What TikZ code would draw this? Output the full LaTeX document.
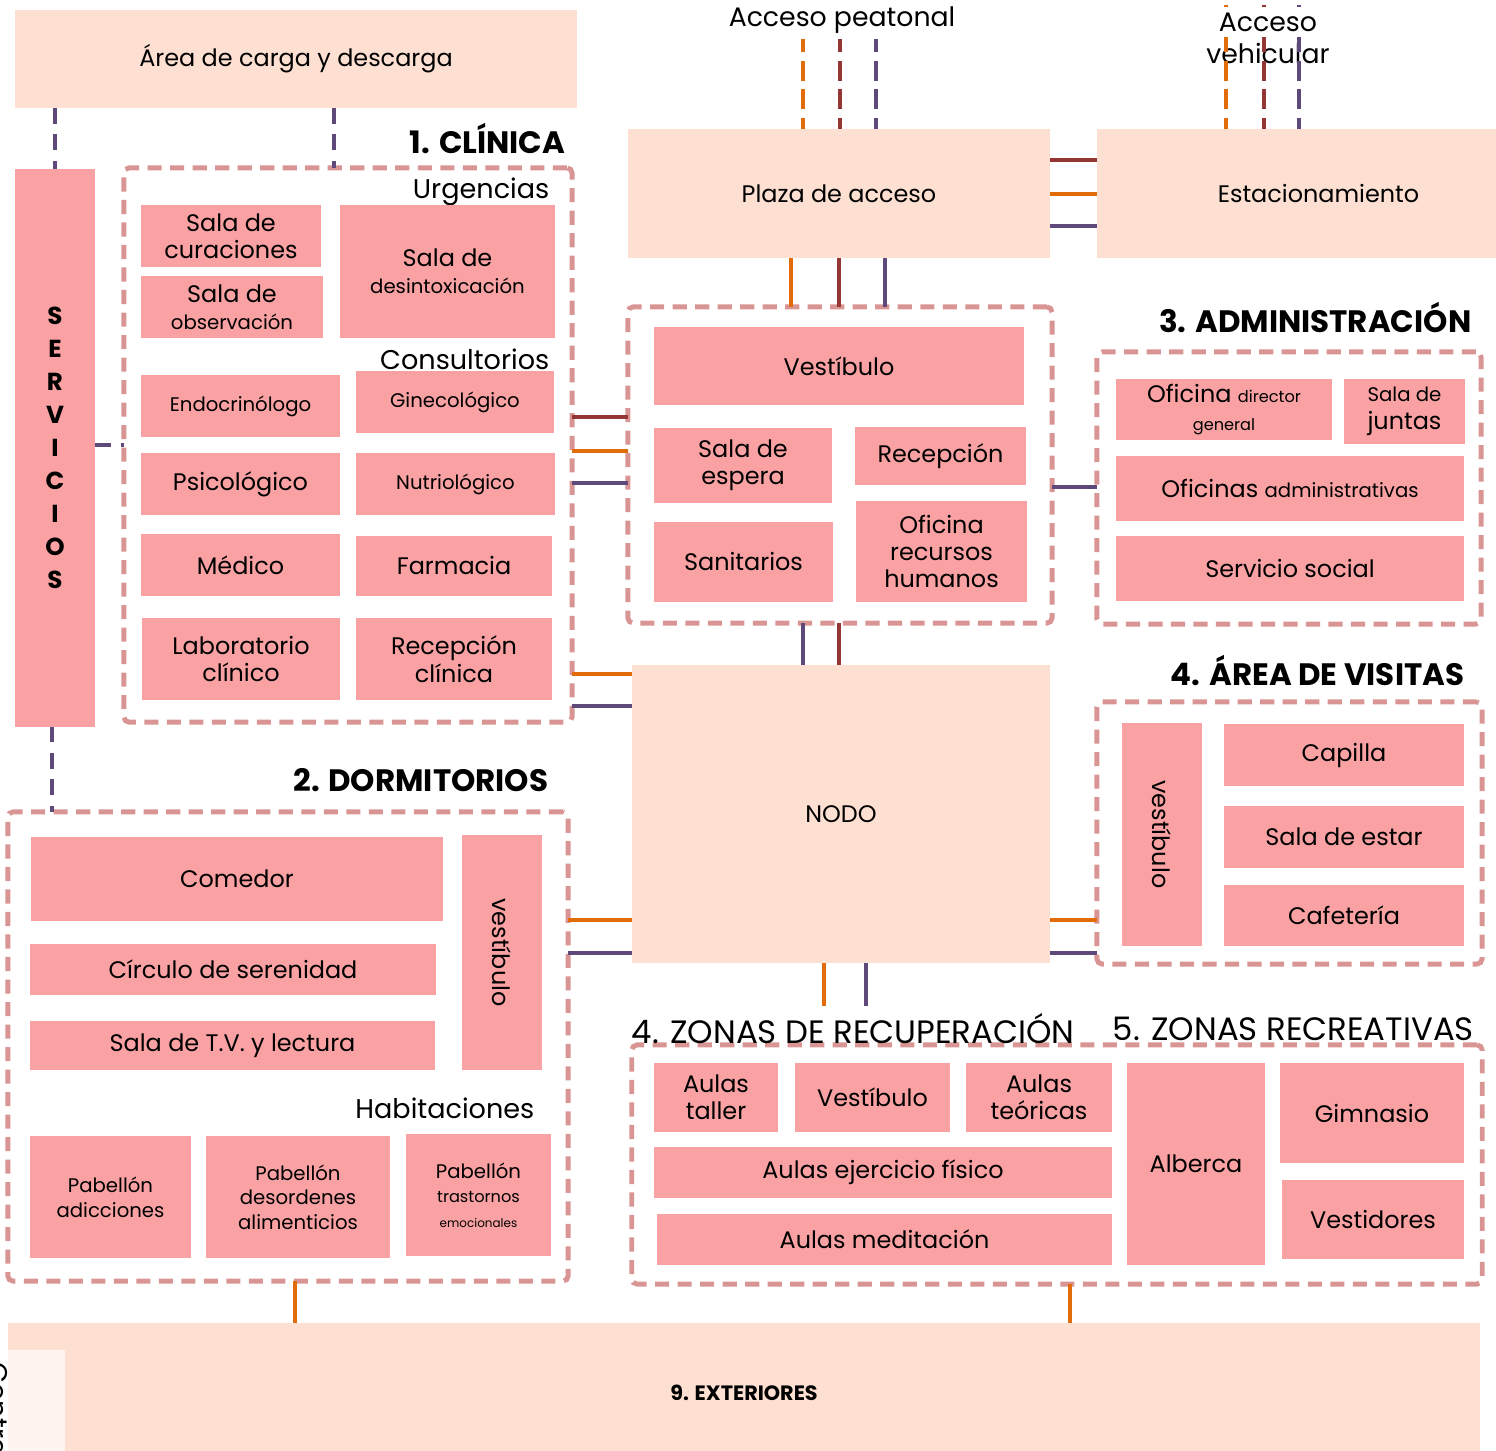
\documentclass[tikz,border=0pt]{standalone}
\usepackage{fontspec}
\setmainfont{Poppins}
\usepackage{xcolor}
\definecolor{plPeach}{HTML}{FDE0D2}
\definecolor{plRoom}{HTML}{FAA2A3}
\definecolor{plBorder}{HTML}{D99594}
\definecolor{plOrange}{HTML}{E36C0A}
\definecolor{plWine}{HTML}{943634}
\definecolor{plPurple}{HTML}{5F497A}
\definecolor{plPale}{HTML}{FFF4EE}
\usepackage{tikz}
\newcommand{\rmtxt}{\fontsize{6.8}{7.8}\selectfont}
\newcommand{\smtxt}{\fontsize{5.6}{7}\selectfont}
\newcommand{\xstxt}{\fontsize{4.6}{6}\selectfont}
\newcommand{\tntxt}{\fontsize{3.4}{4.6}\selectfont}
\newcommand{\subtxt}{\fontsize{7.7}{9}\selectfont}
\newcommand{\acctxt}{\fontsize{7.6}{8.8}\selectfont}
\newcommand{\ttltxt}{\fontsize{8.8}{10}\selectfont}
\newcommand{\zntxt}{\fontsize{9.2}{10}\selectfont}
\newcommand{\svctxt}{\fontsize{7}{9.4}\selectfont\bfseries}

\begin{document}
\begin{tikzpicture}[x=0.01cm, y=-0.01cm,
  hall/.style={fill=plPeach, inner sep=0pt, outer sep=0pt, align=center, font=\rmtxt},
  room/.style={fill=plRoom, inner sep=0pt, outer sep=0pt, align=center, font=\rmtxt},
  zone/.style={draw=plBorder, line width=1.4pt, dash pattern=on 4pt off 2.4pt,
    rounded corners=1.5pt, inner sep=0pt, outer sep=0pt},
  ttl/.style={font=\ttltxt\bfseries, inner sep=0pt},
  sub/.style={font=\subtxt, inner sep=0pt},
  ln/.style={line width=1.15pt},
  acc/.style={dash pattern=on 5.5pt off 2.5pt},
  svc/.style={draw=plPurple, line width=1.15pt, dash pattern=on 4.5pt off 3pt}]
  \useasboundingbox (0,0) rectangle (1496,1451);

  % ------- zones -------
  \node[zone, minimum width=4.48cm, minimum height=5.54cm] (clin) at (348,445) {};
  \node[zone, minimum width=4.24cm, minimum height=3.16cm] (lobby) at (840,465) {};
  \node[zone, minimum width=3.84cm, minimum height=2.72cm] (admin) at (1289,488) {};
  \node[zone, minimum width=3.85cm, minimum height=2.62cm] (visit) at (1289.5,833) {};
  \node[zone, minimum width=5.60cm, minimum height=4.69cm] (dorm) at (288,1046.5) {};
  \node[zone, minimum width=8.50cm, minimum height=2.39cm] (recup) at (1057,1164.5) {};

  \node[ttl, anchor=east] (tclin) at (566,139) {1. CLÍNICA};
  \node[ttl, anchor=east] (tadmin) at (1472,318) {3. ADMINISTRACIÓN};
  \node[ttl, anchor=east] (tvisit) at (1465,671) {4. ÁREA DE VISITAS};
  \node[ttl, anchor=east] (tdorm) at (549,780) {2. DORMITORIOS};
  \node[ttl, font=\zntxt, anchor=west] (trecup) at (631,1029) {4. ZONAS DE RECUPERACIÓN};
  \node[ttl, font=\zntxt, anchor=west] (trecr) at (1112,1029) {5. ZONAS RECREATIVAS};

  % ------- peach halls -------
  \node[hall, minimum width=5.62cm, minimum height=0.98cm] (carga) at (296,59) {Área de carga y descarga};
  \node[hall, minimum width=4.22cm, minimum height=1.29cm] (plaza) at (839,193.5) {Plaza de acceso};
  \node[hall, minimum width=4.43cm, minimum height=1.29cm] (estac) at (1318.5,193.5) {Estacionamiento};
  \node[hall, minimum width=4.18cm, minimum height=2.98cm] (nodo) at (841,814) {NODO};
  \node[hall, minimum width=14.72cm, minimum height=1.40cm, font=\fontsize{5.9}{7}\selectfont\bfseries] (ext) at (744,1393) {9. EXTERIORES};
  \node[fill=plPale, inner sep=0pt, minimum width=0.57cm, minimum height=1.20cm] (ctrl) at (36.5,1410) {};
  \node[font=\subtxt, rotate=-90, anchor=north west, inner sep=0pt] (tctrl) at (10,1362) {Contraloría};

  % ------- servicios -------
  \node[room, minimum width=0.80cm, minimum height=5.57cm, font=\svctxt] (serv) at (55,448) {S\\E\\R\\V\\I\\C\\I\\O\\S};

  % ------- 1. clinica -------
  \node[sub, anchor=east] (turg) at (550,192) {Urgencias};
  \node[sub, anchor=east] (tcons) at (550,359) {Consultorios};
  \node[room, minimum width=1.80cm, minimum height=0.62cm] (curac) at (231,236) {Sala de\\curaciones};
  \node[room, minimum width=1.82cm, minimum height=0.62cm] (obser) at (232,307) {Sala de\\{\smtxt observación}};
  \node[room, minimum width=2.15cm, minimum height=1.33cm] (desin) at (447.5,271.5) {Sala de\\{\smtxt desintoxicación}};
  \node[room, minimum width=1.99cm, minimum height=0.62cm, font=\smtxt] (endoc) at (240.5,406) {Endocrinólogo};
  \node[room, minimum width=1.98cm, minimum height=0.62cm, font=\smtxt] (ginec) at (455,402) {Ginecológico};
  \node[room, minimum width=1.99cm, minimum height=0.62cm] (psico) at (240.5,484) {Psicológico};
  \node[room, minimum width=1.99cm, minimum height=0.62cm, font=\smtxt] (nutri) at (455.5,484) {Nutriológico};
  \node[room, minimum width=1.99cm, minimum height=0.62cm] (medic) at (240.5,565) {Médico};
  \node[room, minimum width=1.96cm, minimum height=0.60cm] (farma) at (454,566) {Farmacia};
  \node[room, minimum width=1.98cm, minimum height=0.82cm] (labor) at (241,659) {Laboratorio\\clínico};
  \node[room, minimum width=1.96cm, minimum height=0.82cm] (recli) at (454,659) {Recepción\\clínica};

  % ------- vestibulo general -------
  \node[room, minimum width=3.70cm, minimum height=0.78cm] (vesti) at (839,366) {Vestíbulo};
  \node[room, minimum width=1.78cm, minimum height=0.75cm] (esper) at (743,465.5) {Sala de\\espera};
  \node[room, minimum width=1.71cm, minimum height=0.58cm] (recep) at (940.5,456) {Recepción};
  \node[room, minimum width=1.79cm, minimum height=0.80cm] (sanit) at (743.5,562) {Sanitarios};
  \node[room, minimum width=1.71cm, minimum height=1.01cm] (ofirh) at (941.5,551.5) {Oficina\\recursos\\humanos};

  % ------- 3. administracion -------
  \node[room, minimum width=2.16cm, minimum height=0.61cm] (ofdir) at (1224,409.5) {Oficina {\xstxt director}\\{\xstxt general}};
  \node[room, minimum width=1.21cm, minimum height=0.65cm] (junta) at (1404.5,411.5) {{\smtxt Sala de}\\juntas};
  \node[room, minimum width=3.48cm, minimum height=0.65cm] (ofadm) at (1290,488.5) {Oficinas {\smtxt administrativas}};
  \node[room, minimum width=3.48cm, minimum height=0.65cm] (socia) at (1290,568.5) {Servicio social};

  % ------- 4. visitas -------
  \node[room, minimum width=0.80cm, minimum height=2.23cm] (vvest) at (1162,834.5) {\rotatebox{-90}{vestíbulo}};
  \node[room, minimum width=2.40cm, minimum height=0.62cm] (capil) at (1344,755) {Capilla};
  \node[room, minimum width=2.40cm, minimum height=0.62cm] (estar) at (1344,837) {Sala de estar};
  \node[room, minimum width=2.40cm, minimum height=0.61cm] (cafet) at (1344,915.5) {Cafetería};

  % ------- 2. dormitorios -------
  \node[room, minimum width=4.12cm, minimum height=0.84cm] (comed) at (237,879) {Comedor};
  \node[room, minimum width=4.06cm, minimum height=0.51cm] (circu) at (233,969.5) {Círculo de serenidad};
  \node[room, minimum width=4.05cm, minimum height=0.49cm] (tvlec) at (232.5,1045.5) {Sala de T.V. y lectura};
  \node[room, minimum width=0.80cm, minimum height=2.35cm] (dvest) at (502,952.5) {\rotatebox{-90}{vestíbulo}};
  \node[sub, anchor=east] (thab) at (535,1108) {Habitaciones};
  \node[room, minimum width=1.61cm, minimum height=1.22cm, font=\smtxt] (padic) at (110.5,1197) {Pabellón\\adicciones};
  \node[room, minimum width=1.84cm, minimum height=1.22cm, font=\smtxt] (paali) at (298,1197) {Pabellón\\desordenes\\alimenticios};
  \node[room, minimum width=1.45cm, minimum height=1.22cm, font=\smtxt] (patra) at (478.5,1195) {Pabellón\\{\xstxt trastornos}\\{\tntxt emocionales}};

  % ------- 4./5. recuperacion y recreacion -------
  \node[room, minimum width=1.24cm, minimum height=0.69cm] (tall) at (716,1097.5) {Aulas\\taller};
  \node[room, minimum width=1.55cm, minimum height=0.69cm] (rvest) at (872.5,1097.5) {Vestíbulo};
  \node[room, minimum width=1.46cm, minimum height=0.69cm] (teor) at (1039,1097.5) {Aulas\\teóricas};
  \node[room, minimum width=4.58cm, minimum height=0.51cm] (ejerc) at (883,1172.5) {Aulas ejercicio físico};
  \node[room, minimum width=4.55cm, minimum height=0.51cm] (medit) at (884.5,1239.5) {Aulas meditación};
  \node[room, minimum width=1.38cm, minimum height=2.02cm] (alber) at (1196,1164) {Alberca};
  \node[room, minimum width=1.84cm, minimum height=1.00cm] (gimna) at (1372,1113) {Gimnasio};
  \node[room, minimum width=1.82cm, minimum height=0.79cm] (vesdr) at (1373,1219.5) {Vestidores};

  % ------- accesos -------
  \coordinate (peat) at (840,5);
  \coordinate (vehi) at (1264,5);
  \node[font=\acctxt, inner sep=1pt] (tvehi2) at (1268,53) {vehicular};
  \foreach \c/\xx in {plOrange/803, plWine/840, plPurple/876}
    \draw[ln, acc, draw=\c] (peat -| \xx,0) -- (plaza.north -| \xx,0);
  \foreach \c/\xx in {plOrange/1226, plWine/1264, plPurple/1299}
    \draw[ln, acc, draw=\c] (vehi -| \xx,0) -- (estac.north -| \xx,0);
  \node[font=\acctxt, fill=white, inner sep=1.5pt] (tpeat) at (842,20) {Acceso peatonal};
  \node[font=\acctxt, fill=white, inner sep=1.5pt] (tvehi) at (1268,22) {Acceso};

  % ------- connections -------
  \draw[svc] (carga.south -| serv.north) -- (serv.north);
  \draw[svc] (carga.south -| 334,0) -- (clin.north -| 334,0);
  \draw[svc] (serv.east |- 0,445) -- (clin.west |- 0,445);
  \draw[svc] (serv.south -| 52,0) -- (dorm.north -| 52,0);
  \foreach \c/\yy in {plWine/160, plOrange/194, plPurple/226}
    \draw[ln, draw=\c] (plaza.east |- 0,\yy) -- (estac.west |- 0,\yy);
  \foreach \c/\xx in {plOrange/791, plWine/839, plPurple/885}
    \draw[ln, draw=\c] (plaza.south -| \xx,0) -- (lobby.north -| \xx,0);
  \foreach \c/\yy in {plWine/417, plOrange/451, plPurple/483}
    \draw[ln, draw=\c] (clin.east |- 0,\yy) -- (lobby.west |- 0,\yy);
  \draw[ln, draw=plPurple] (lobby.east |- 0,487) -- (admin.west |- 0,487);
  \foreach \c/\xx in {plPurple/803, plWine/839}
    \draw[ln, draw=\c] (lobby.south -| \xx,0) -- (nodo.north -| \xx,0);
  \foreach \c/\yy in {plOrange/674, plPurple/706}
    \draw[ln, draw=\c] (clin.east |- 0,\yy) -- (nodo.west |- 0,\yy);
  \foreach \c/\yy in {plOrange/920, plPurple/953} {
    \draw[ln, draw=\c] (dorm.east |- 0,\yy) -- (nodo.west |- 0,\yy);
    \draw[ln, draw=\c] (nodo.east |- 0,\yy) -- (visit.west |- 0,\yy);
  }
  \foreach \c/\xx in {plOrange/824, plPurple/866}
    \draw[ln, draw=\c] (nodo.south -| \xx,0) -- ([yshift=2pt]trecup.north -| \xx,0);
  \draw[ln, draw=plOrange] (dorm.south -| 295,0) -- (ext.north -| 295,0);
  \draw[ln, draw=plOrange] (recup.south -| 1070,0) -- (ext.north -| 1070,0);
\end{tikzpicture}
\end{document}
